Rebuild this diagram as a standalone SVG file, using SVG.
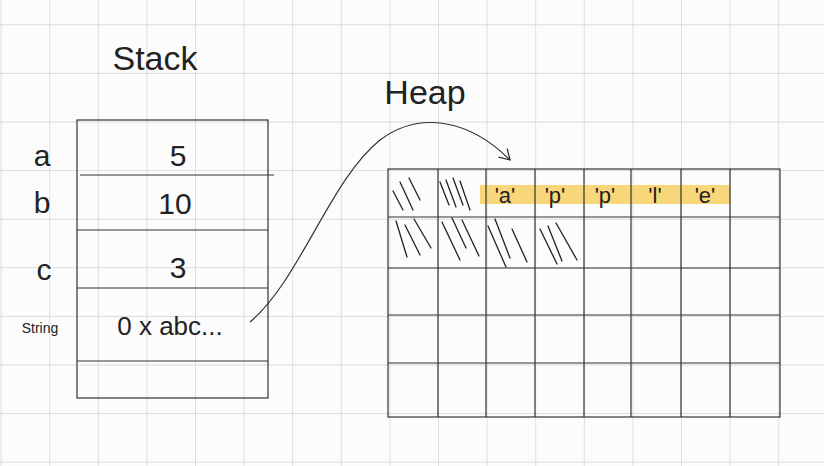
<svg xmlns="http://www.w3.org/2000/svg" width="824" height="466" viewBox="0 0 824 466">
<defs>
<pattern id="grid" x="0.6" y="24.3" width="48.6" height="48.6" patternUnits="userSpaceOnUse">
<path d="M0 0V48.6M0 0H48.6" stroke="#cfcfcf" stroke-width="1.3" fill="none"/>
</pattern>
<marker id="arr" markerWidth="14" markerHeight="14" refX="11" refY="7" orient="auto" markerUnits="userSpaceOnUse">
<path d="M1 1L11 7L1 13" fill="none" stroke="#222" stroke-width="1.2"/>
</marker>
</defs>
<style>
.ln{stroke:#333;stroke-width:1.2;fill:none}
.h{stroke:#222;stroke-width:1.3;fill:none;stroke-linecap:round}
text{font-family:"Liberation Sans",sans-serif;fill:#222}
.big{font-size:34px}
.v{font-size:30px;text-anchor:middle}
.c{font-size:22px;text-anchor:middle}
</style>
<rect width="824" height="466" fill="#fcfcfc"/>
<rect width="824" height="466" fill="url(#grid)"/>
<g id="titles">
<text x="155" y="70" class="big" text-anchor="middle">Stack</text>
<text x="425" y="104" class="big" text-anchor="middle">Heap</text>
</g>
<g id="stack">
<rect x="77" y="120" width="191" height="278" class="ln"/>
<path d="M80 175H274M77 230H268M77 288H268M77 361H268" class="ln"/>
<text x="42" y="166" class="v">a</text>
<text x="42" y="213" class="v">b</text>
<text x="44" y="280" class="v">c</text>
<text x="40" y="333" font-size="14" text-anchor="middle">String</text>
<text x="178" y="166" class="v">5</text>
<text x="175" y="214" class="v">10</text>
<text x="178" y="278" class="v">3</text>
<text x="170" y="335" font-size="26" text-anchor="middle">0 x abc...</text>
</g>
<g id="heap">
<rect x="480" y="185" width="250" height="19" fill="#f5c842" opacity="0.7"/>
<rect x="388" y="169" width="392" height="248" class="ln"/>
<path d="M438 169V417M486 169V417M535 169V417M584 169V417M631 169V417M681 169V417M730 169V417M388 217H780M388 268H780M388 315H780M388 363H780" class="ln"/>
<text x="505" y="203" class="c">'a'</text>
<text x="555" y="203" class="c">'p'</text>
<text x="605" y="203" class="c">'p'</text>
<text x="655" y="203" class="c">'l'</text>
<text x="705" y="203" class="c">'e'</text>
<path class="h" d="M393 191L403 210M400 182L413 210M409 178L420 200M440 182L449 205M446 180L456 207M453 178L463 205M460 181L470 210M396 221L407 257M405 225L420 255M414 219L431 248M442 222L460 260M452 218L466 248M462 220L479 256M488 226L506 267M495 219L510 258M512 229L527 262M540 229L557 264M548 226L562 261M556 223L577 260"/>
</g>
<g id="connectors">
<path d="M250 322C300 280 330 180 380 140C420 110 470 120 510 160" class="ln" marker-end="url(#arr)"/>
</g>
</svg>
